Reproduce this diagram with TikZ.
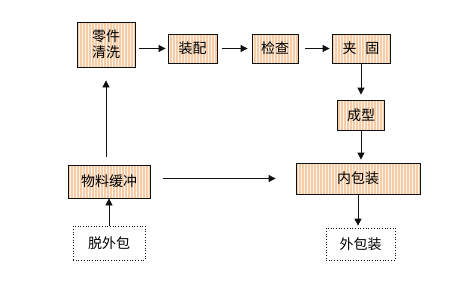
\documentclass[tikz,border=0pt]{standalone}
\usepackage{fontspec}
\setmainfont{Noto Sans CJK SC}
\usetikzlibrary{arrows.meta,patterns.meta}
\definecolor{cInk}{HTML}{101010}
\definecolor{cPaper}{HTML}{FDF2E7}
\definecolor{cStripe}{HTML}{F4CDA8}
\tikzset{
  stagebox/.style={draw=cInk,line width=0.8pt,preaction={fill=cPaper},
    preaction={pattern={Lines[angle=90,distance=3pt,line width=1.1pt]},pattern color=cStripe},
    align=center,inner sep=2pt,font=\fontsize{14}{16}\selectfont},
  outbox/.style={draw=cInk,dotted,line width=0.7pt,fill=white,align=center,inner sep=2pt,
    font=\fontsize{14}{16}\selectfont},
  arr/.style={-{Triangle[length=7pt,width=7pt]},line width=0.8pt,color=cInk},
}
\begin{document}
\begin{tikzpicture}[x=1pt,y=-1pt]
  \useasboundingbox[fill=white] (0,0) rectangle (450,300);
  % top row
  \node[stagebox,minimum width=58pt,minimum height=45pt] (lj) at (106,44.5) {零件\\清洗};
  \node[stagebox,minimum width=49pt,minimum height=29pt] (zp) at (192.5,48.5) {装配};
  \node[stagebox,minimum width=46pt,minimum height=29pt] (jc) at (275,48.5) {检查};
  \node[stagebox,minimum width=58pt,minimum height=29pt] (jg) at (361,48.5) {夹\hspace{9pt}固};
  % right column
  \node[stagebox,minimum width=47pt,minimum height=30pt] (cx) at (361,115) {成型};
  \node[stagebox,minimum width=124pt,minimum height=31pt] (nb) at (358,178.5) {内包装};
  \node[outbox,minimum width=69pt,minimum height=32pt] (wb) at (360.5,244) {外包装};
  % left column
  \node[stagebox,minimum width=82pt,minimum height=33pt] (wl) at (109,181.5) {物料缓冲};
  \node[outbox,minimum width=72pt,minimum height=34pt] (tw) at (109,243) {脱外包};
  % connectors
  \draw[arr,shorten <=4pt,shorten >=2pt] (lj.east |- zp.west) -- (zp.west);
  \draw[arr,shorten <=5pt,shorten >=4pt] (zp) -- (jc);
  \draw[arr,shorten <=7pt,shorten >=2pt] (jc) -- (jg);
  \draw[arr,shorten >=5pt] (jg) -- (cx);
  \draw[arr,shorten >=3pt] (cx.south) -- (cx.south |- nb.north);
  \draw[arr,shorten >=2pt] (nb.south) -- (nb.south |- wb.north);
  \draw[arr,shorten <=8pt,shorten >=13pt] (wl.north -| lj.south) -- (lj.south);
  \draw[arr] (tw.north -| wl.south) -- (wl.south);
  \draw[arr,shorten <=13pt,shorten >=20pt] (wl.east |- nb.west) -- (nb.west);
\end{tikzpicture}
\end{document}
